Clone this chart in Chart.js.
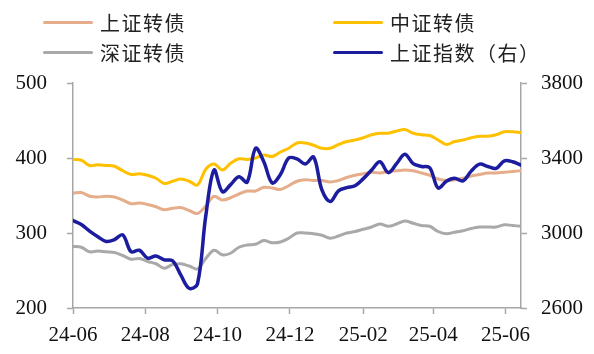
<!DOCTYPE html>
<html>
<head>
<meta charset="utf-8">
<script src="https://cdn.jsdelivr.net/npm/chart.js@4/dist/chart.umd.min.js"></script>
<style>
  body { margin: 0; background: #fff; }
  #wrap { position: relative; width: 594px; height: 354px; }
  #legend {
    position: absolute; left: 43px; top: 7px;
    display: grid; grid-template-columns: 290px auto; grid-auto-rows: 30px;
    font-family: "Noto Sans CJK SC", sans-serif; font-size: 20px; color: #222; letter-spacing: 1.5px;
  }
  #legend .item { display: flex; align-items: center; }
  #legend .swatch { width: 50px; height: 3px; margin-right: 7px; border-radius: 2px; }
</style>
</head>
<body>
<div id="wrap">
  <canvas id="bondChart" width="594" height="354"></canvas>
  <div id="legend"></div>
</div>
<script>
// weekly dates (Fridays)
const dates = [
  '2024-06-07', '2024-06-14', '2024-06-21', '2024-06-28', '2024-07-05', '2024-07-12', '2024-07-19', '2024-07-26',
  '2024-08-02', '2024-08-09', '2024-08-16', '2024-08-23', '2024-08-30', '2024-09-06', '2024-09-13', '2024-09-20',
  '2024-09-27', '2024-10-04', '2024-10-11', '2024-10-18', '2024-10-25', '2024-11-01', '2024-11-08', '2024-11-15',
  '2024-11-22', '2024-11-29', '2024-12-06', '2024-12-13', '2024-12-20', '2024-12-27', '2025-01-03', '2025-01-10',
  '2025-01-17', '2025-01-24', '2025-01-31', '2025-02-07', '2025-02-14', '2025-02-21', '2025-02-28', '2025-03-07',
  '2025-03-14', '2025-03-21', '2025-03-28', '2025-04-04', '2025-04-11', '2025-04-18', '2025-04-25', '2025-05-02',
  '2025-05-09', '2025-05-16', '2025-05-23', '2025-05-30', '2025-06-06', '2025-06-13', '2025-06-20'
];

const shBond = [353, 354, 349, 348, 349, 348, 344, 339, 340, 338, 335, 331, 333, 334, 330, 326, 336, 349, 344, 347,
  352, 356, 356, 361, 360, 358, 363, 369, 371, 370, 370, 368, 370, 374, 377, 379, 381, 380, 382, 383,
  384, 383, 380, 377, 372, 370, 371, 373, 376, 378, 380, 380, 381, 382, 383];
const csiBond = [398, 397, 390, 391, 390, 389, 383, 378, 379, 377, 373, 366, 369, 372, 369, 364, 385, 392, 384, 393,
  399, 398, 400, 404, 402, 408, 413, 420, 420, 417, 413, 413, 418, 422, 424, 427, 431, 433, 433, 436,
  438, 433, 431, 430, 424, 418, 422, 424, 427, 429, 429, 431, 435, 435, 434];
const szBond = [282, 281, 275, 276, 275, 274, 270, 265, 266, 262, 259, 253, 258, 259, 256, 252, 266, 277, 271, 273,
  281, 284, 285, 290, 287, 288, 293, 300, 300, 299, 297, 293, 296, 300, 302, 305, 308, 312, 309, 312,
  316, 313, 310, 309, 302, 299, 301, 303, 306, 308, 308, 308, 311, 310, 309];
const shIndex = [3066, 3045, 3010, 2980, 2955, 2965, 2990, 2900, 2908, 2866, 2877, 2857, 2852, 2775, 2705, 2728, 3090, 3336, 3220, 3258,
  3300, 3272, 3452, 3380, 3267, 3312, 3400, 3395, 3368, 3405, 3230, 3168, 3225, 3242, 3252, 3290, 3336, 3380, 3322, 3370,
  3420, 3370, 3355, 3348, 3240, 3276, 3292, 3278, 3330, 3367, 3355, 3345, 3385, 3380, 3362];

const xTickDates = ['2024-06-07', '2024-08-07', '2024-10-07', '2024-12-07', '2025-02-07', '2025-04-07', '2025-06-07'];
const xTickLabels = ['24-06', '24-08', '24-10', '24-12', '25-02', '25-04', '25-06'];
const leftTicks = [200, 300, 400, 500];
const rightTicks = [2600, 3000, 3400, 3800];

const day = s => (Date.parse(s) - Date.parse(dates[0])) / 864e5;
const pts = arr => dates.map((d, i) => ({ x: day(d), y: arr[i] }));

const axisGrey = '#a6a6a6';
const tickFont = { family: '"Liberation Serif", "Times New Roman", serif', size: 21 };

const line = (label, data, color, axis, width) => ({
  label: label,
  data: pts(data),
  borderColor: color,
  backgroundColor: color,
  borderWidth: width,
  pointRadius: 0,
  tension: 0.35,
  borderCapStyle: 'round',
  borderJoinStyle: 'round',
  yAxisID: axis
});

const datasets = [
  line('上证转债', shBond, '#e6ad8a', 'y', 3),
  line('中证转债', csiBond, '#ffc000', 'y', 3),
  line('深证转债', szBond, '#a9a9a9', 'y', 3),
  Object.assign(line('上证指数（右）', shIndex, '#1c1c9e', 'y1', 3.5), { order: -1 })
];

const ctx = document.getElementById('bondChart').getContext('2d');
const chart = new Chart(ctx, {
  type: 'line',
  data: { datasets: datasets },
  options: {
    responsive: false,
    animation: false,
    layout: { padding: { top: 83, left: 0, right: 0, bottom: 0 } },
    plugins: { legend: { display: false }, tooltip: { enabled: false } },
    scales: {
      x: {
        type: 'linear',
        min: 0,
        max: day(dates[dates.length - 1]),
        afterBuildTicks: s => { s.ticks = xTickDates.map(d => ({ value: day(d) })); },
        afterFit: s => { s.height = 46; },
        grid: { drawOnChartArea: false, tickLength: 6, tickColor: axisGrey, tickWidth: 1.5 },
        border: { color: axisGrey, width: 1.5 },
        ticks: {
          autoSkip: false, maxRotation: 0, padding: 9, color: '#111', font: tickFont,
          callback: (v, i) => xTickLabels[i]
        }
      },
      y: {
        position: 'left',
        min: 200, max: 500,
        afterBuildTicks: s => { s.ticks = leftTicks.map(v => ({ value: v })); },
        afterFit: s => { s.width = 73; },
        grid: { drawOnChartArea: false, tickLength: 6, tickColor: axisGrey, tickWidth: 1.5 },
        border: { color: axisGrey, width: 1.5 },
        ticks: { padding: 20, color: '#111', font: tickFont, callback: v => String(v) }
      },
      y1: {
        position: 'right',
        min: 2600, max: 3800,
        afterBuildTicks: s => { s.ticks = rightTicks.map(v => ({ value: v })); },
        afterFit: s => { s.width = 73; },
        grid: { drawOnChartArea: false, tickLength: 6, tickColor: axisGrey, tickWidth: 1.5 },
        border: { color: axisGrey, width: 1.5 },
        ticks: { padding: 14, color: '#111', font: tickFont, callback: v => String(v) }
      }
    }
  }
});

// legend in two columns, built from the chart datasets
const legend = document.getElementById('legend');
chart.data.datasets.forEach(ds => {
  const item = document.createElement('div');
  item.className = 'item';
  const sw = document.createElement('span');
  sw.className = 'swatch';
  sw.style.background = ds.borderColor;
  const txt = document.createElement('span');
  txt.textContent = ds.label;
  item.appendChild(sw);
  item.appendChild(txt);
  legend.appendChild(item);
});
</script>
</body>
</html>
